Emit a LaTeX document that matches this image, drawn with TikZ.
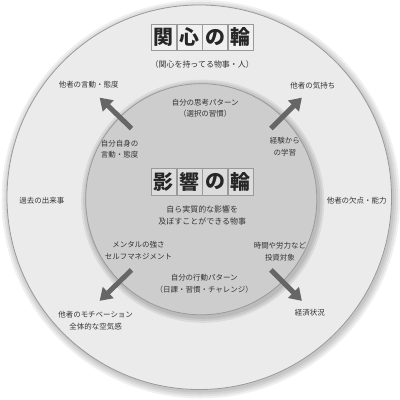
\documentclass[tikz,border=0pt]{standalone}
\usepackage{fontspec}
\setmainfont{Noto Sans CJK JP}
\usetikzlibrary{arrows.meta,positioning}
\definecolor{ringgray}{HTML}{EBEBEB}
\definecolor{coregray}{HTML}{CDCDCD}
\definecolor{edgegray}{HTML}{9A9A9A}
\definecolor{arrowgray}{HTML}{666666}
\definecolor{textgray}{HTML}{333333}

\begin{document}
\begin{tikzpicture}[x=1pt,y=-1pt,
    txt/.style={text=textgray,font=\fontsize{7.5}{11.5}\selectfont,align=center,inner sep=1pt},
    subtxt/.style={text=textgray,font=\fontsize{8}{12}\selectfont,align=center,inner sep=1pt},
    charbox/.style={draw=edgegray,fill=#1,line width=0.8pt,minimum width=25pt,minimum height=27pt,inner sep=0pt,text=black!85,font=\fontsize{20}{20}\bfseries\selectfont},
    bigarrow/.style={draw=arrowgray,line width=5pt,-{Triangle[length=12pt,width=15pt]}}]
    % background and frame
    \fill[white] (0,0) rectangle (400,400);
    \coordinate (outerC) at (200,197);
    \coordinate (innerC) at (202,199);

    % outer ring (circle of concern)
    \foreach \s in {7,5,3,1} {
        \fill[black,opacity=0.06] (201.5,199) circle ({(193+\s)*1pt});
    }
    \filldraw[fill=ringgray,draw=edgegray,line width=0.8pt] (outerC) circle (193pt);

    % inner circle (circle of influence)
    \foreach \s in {6,4,2} {
        \fill[black,opacity=0.07] (203.5,201) circle ({(116+\s)*1pt});
    }
    \filldraw[fill=coregray,draw=edgegray,line width=0.8pt] (innerC) circle (116pt);

    % titles
    \foreach \ch [count=\i] in {関,心,の,輪} {
        \node[charbox=ringgray!75!white] (kan\i) at ({164.5+(\i-1)*25.7},36.5) {\ch};
    }
    \node[subtxt] (kanSub) at (203,64) {（関心を持ってる物事・人）};
    \foreach \ch [count=\i] in {影,響,の,輪} {
        \node[charbox=coregray!70!white] (eik\i) at ({164.5+(\i-1)*25.7},181.5) {\ch};
    }
    \node[subtxt] (eikSub) at (203,215) {自ら実質的な影響を\\及ぼすことができる物事};

    % outer ring labels
    \node[txt] (otherAct) at (89,84) {他者の言動・態度};
    \node[txt] (otherFeel) at (314,85) {他者の気持ち};
    \node[txt] (past) at (42,200) {過去の出来事};
    \node[txt] (otherFlaw) at (358,200) {他者の欠点・能力};
    \node[txt] (otherMot) at (96,321) {他者のモチベーション\\全体的な空気感};
    \node[txt] (economy) at (311,313) {経済状況};

    % inner circle labels
    \node[txt] (thinking) at (206,107.5) {自分の思考パターン\\（選択の習慣）};
    \node[txt] (selfAct) at (120,149) {自分自身の\\言動・態度};
    \node[txt] (learning) at (286,146) {経験から\\の学習};
    \node[txt] (mental) at (139,250.5) {メンタルの強さ\\セルフマネジメント};
    \node[txt] (invest) at (281,251.5) {時間や労力など\\投資対象};
    \node[txt] (behavior) at (205,284) {自分の行動パターン\\（日課・習慣・チャレンジ）};

    % arrows
    \coordinate (ulTail) at (132,128);
    \coordinate (ulTip) at (100,97);
    \coordinate (urTail) at (272,128);
    \coordinate (urTip) at (303,97);
    \coordinate (llTail) at (132,270);
    \coordinate (llTip) at (100,301);
    \coordinate (lrTail) at (272,270);
    \coordinate (lrTip) at (303,301);
    \draw[bigarrow] (ulTail) -- (ulTip);
    \draw[bigarrow] (urTail) -- (urTip);
    \draw[bigarrow] (llTail) -- (llTip);
    \draw[bigarrow] (lrTail) -- (lrTip);
\end{tikzpicture}
\end{document}
